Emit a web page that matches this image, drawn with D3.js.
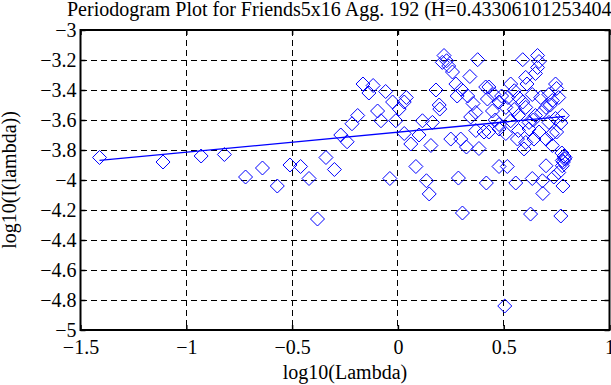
<!DOCTYPE html>
<html>
<head>
<meta charset="utf-8">
<script src="https://cdn.jsdelivr.net/npm/d3@7"></script>
<style>
    body { margin: 0; background: #fff; }
    svg { display: block; }
    text { font-family: "Liberation Serif", "Times New Roman", serif; fill: #000; }
</style>
</head>
<body>
<script>
// data
const title = "Periodogram Plot for Friends5x16 Agg. 192 (H=0.43306101253404)"
const hurst = 0.43306101253404
const fitIntercept = -3.681

const logLambda = [
    -1.41, -1.11, -0.93, -0.82, -0.72, -0.64, -0.57, -0.51, -0.46, -0.42, -0.38, -0.34, -0.30,
    -0.27, -0.24, -0.217, -0.19, -0.165, -0.117, -0.137, -0.096, -0.08, -0.058, -0.025, -0.01, -0.038,
    0.218, 0.23, 0.21, 0.24, 0.258, 0.377, 0.34, 0.274, 0.30, 0.28, 0.18, 0.04, 0.03, 0.195,
    0.198, 0.33, 0.355, 0.006, 0.116, 0.163, 0.368, 0.344, 0.415, 0.423, 0.03, 0.061, 0.10,
    0.156, 0.25, 0.297, 0.324, 0.383, 0.368, 0.407, 0.085, 0.135, 0.148, 0.286, 0.305, 0.418,
    0.59, 0.66, 0.667, 0.66, 0.65, 0.604, 0.61, 0.745, 0.75, 0.43, 0.454, 0.533, 0.55, 0.57,
    0.635, 0.675, 0.714, 0.73, 0.70, 0.478, 0.51, 0.604, 0.447, 0.57, 0.65, 0.745, 0.478, 0.533,
    0.62, 0.714, 0.777, 0.478, 0.517, 0.557, 0.635, 0.685, 0.70, 0.683, 0.737, 0.78, 0.785,
    0.777, 0.777, 0.79, 0.76, 0.627, 0.77, 0.565, 0.604, 0.596, 0.643, 0.70, 0.73, 0.75, 0.667,
    0.478, 0.57, 0.43, 0.73, 0.505,
    0.49, 0.52, 0.59, 0.68, 0.72, 0.76, 0.46, 0.55, 0.64, 0.77, 0.51, 0.62, 0.782, 0.788, 0.775
]
const logPower = [
    -3.85, -3.88, -3.84, -3.83, -3.98, -3.92, -4.04, -3.90, -3.91, -3.99, -4.26, -3.85, -3.93,
    -3.70, -3.745, -3.625, -3.57, -3.36, -3.37, -3.42, -3.54, -3.605, -3.41, -3.48, -3.605, -3.99,
    -3.17, -3.205, -3.216, -3.24, -3.28, -3.198, -3.31, -3.36, -3.396, -3.44, -3.40, -3.45, -3.48, -3.50,
    -3.527, -3.44, -3.49, -3.527, -3.605, -3.616, -3.55, -3.58, -3.38, -3.46, -3.69, -3.76, -3.70,
    -3.77, -3.727, -3.727, -3.78, -3.79, -3.67, -3.68, -3.91, -4.005, -4.093, -3.987, -4.22, -4.02,
    -3.198, -3.17, -3.21, -3.25, -3.29, -3.316, -3.36, -3.36, -3.39, -3.38, -3.43, -3.36, -3.405, -3.45,
    -3.43, -3.45, -3.43, -3.47, -3.516, -3.48, -3.516, -3.516, -3.54, -3.57, -3.57, -3.59, -3.63, -3.605,
    -3.616, -3.616, -3.57, -3.91, -3.91, -4.02, -3.99, -4.09, -3.905, -4.005, -3.98, -4.04, -3.84,
    -3.87, -3.905, -3.85, -3.95, -4.227, -4.24, -3.727, -3.75, -3.793, -3.727, -3.727, -3.69, -3.68, -3.68,
    -3.66, -3.67, -3.68, -3.77, -4.84,
    -3.44, -3.45, -3.48, -3.55, -3.50, -3.45, -3.60, -3.53, -3.60, -3.62, -3.69, -3.66, -3.88, -3.86, -3.82
]
const xTicks = [-1.5, -1, -0.5, 0, 0.5, 1]
const yTicks = [-5, -4.8, -4.6, -4.4, -4.2, -4, -3.8, -3.6, -3.4, -3.2, -3]

const width = 611
const height = 385
const mLeft = 80.5, mRight = 609.5, mTop = 30, mBottom = 330
const serif = "'Liberation Serif', 'Times New Roman', serif"

const points = logLambda.map((x, i) => ({x, y: logPower[i]}))

const sx = d3.scaleLinear().domain([-1.5, 1]).range([mLeft, mRight])
const sy = d3.scaleLinear().domain([-5, -3]).range([mBottom, mTop])

const fmt = v => String(v).replace("-", "\u2212")

const svg = d3.select("body")
    .append("svg")
    .attr("width", width)
    .attr("height", height)

// grid
const grid = svg.append("g").attr("class", "grid")
    .attr("stroke", "#000")
    .attr("stroke-width", 1)
    .attr("stroke-dasharray", "6,4")
    .attr("shape-rendering", "crispEdges")

grid.selectAll(".gx")
    .data(xTicks.slice(1, -1))
    .enter().append("line")
    .attr("x1", d => sx(d)).attr("x2", d => sx(d))
    .attr("y1", mTop).attr("y2", mBottom)

grid.selectAll(".gy")
    .data(yTicks.slice(1, -1))
    .enter().append("line")
    .attr("y1", d => sy(d)).attr("y2", d => sy(d))
    .attr("x1", mLeft).attr("x2", mRight)

// axes with inward ticks
svg.append("g")
    .attr("transform", `translate(0,${mBottom})`)
    .call(d3.axisBottom(sx).tickValues(xTicks).tickSizeInner(-5).tickSizeOuter(0).tickPadding(10).tickFormat(fmt))
svg.append("g")
    .attr("transform", `translate(0,${mTop})`)
    .call(d3.axisTop(sx).tickValues(xTicks).tickSizeInner(-5).tickSizeOuter(0).tickFormat(""))
svg.append("g")
    .attr("transform", `translate(${mLeft},0)`)
    .call(d3.axisLeft(sy).tickValues(yTicks).tickSizeInner(-5).tickSizeOuter(0).tickPadding(4).tickFormat(fmt))
svg.append("g")
    .attr("transform", `translate(${mRight},0)`)
    .call(d3.axisRight(sy).tickValues(yTicks).tickSizeInner(-5).tickSizeOuter(0).tickFormat(""))

svg.selectAll(".domain").remove()
svg.selectAll(".tick line").attr("stroke", "#000").attr("stroke-width", 1.5)
svg.selectAll("g").attr("font-family", null).attr("font-size", null)
svg.selectAll(".tick text")
    .style("font-family", serif)
    .style("font-size", "20px")

svg.append("rect")
    .attr("x", mLeft).attr("y", mTop)
    .attr("width", mRight - mLeft).attr("height", mBottom - mTop)
    .attr("fill", "none")
    .attr("stroke", "#000")
    .attr("stroke-width", 2)

// diamonds
svg.append("g")
    .selectAll("path")
    .data(points)
    .enter().append("path")
    .attr("transform", d => `translate(${sx(d.x)},${sy(d.y)})`)
    .attr("d", "M0,-7L7,0L0,7L-7,0Z")
    .attr("fill", "none")
    .attr("stroke", "#0000ff")
    .attr("stroke-width", 1)

// least squares fit, slope = 1 - 2H
const slope = 1 - 2 * hurst
const [xmin, xmax] = d3.extent(logLambda)
svg.append("line")
    .attr("x1", sx(xmin)).attr("y1", sy(fitIntercept + slope * xmin))
    .attr("x2", sx(xmax)).attr("y2", sy(fitIntercept + slope * xmax))
    .attr("stroke", "#0000ff")
    .attr("stroke-width", 1.3)

// titles
svg.append("text")
    .attr("x", 67)
    .attr("y", 16)
    .style("font-family", serif)
    .style("font-size", "20px")
    .text(title)

svg.append("text")
    .attr("x", (mLeft + mRight) / 2)
    .attr("y", 379)
    .attr("text-anchor", "middle")
    .style("font-family", serif)
    .style("font-size", "20px")
    .text("log10(Lambda)")

svg.append("text")
    .attr("transform", `translate(16,${(mTop + mBottom) / 2}) rotate(-90)`)
    .attr("text-anchor", "middle")
    .style("font-family", serif)
    .style("font-size", "20px")
    .text("log10(I(lambda))")
</script>
</body>
</html>
